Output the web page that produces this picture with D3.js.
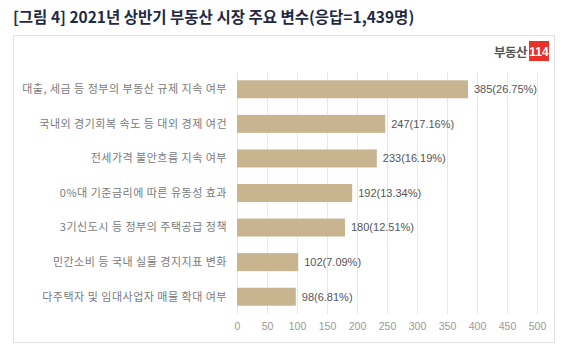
<!DOCTYPE html>
<html><head><meta charset="utf-8">
<script src="https://cdn.jsdelivr.net/npm/d3@7"></script>
<style>body{margin:0;background:#fff;font-family:"Noto Sans CJK KR","Noto Sans",sans-serif;}</style>
</head><body><svg id="c" width="570" height="350"></svg>
<script>
const categories = ["대출, 세금 등 정부의 부동산 규제 지속 여부","국내외 경기회복 속도 등 대외 경제 여건","전세가격 불안흐름 지속 여부","0%대 기준금리에 따른 유동성 효과","3기신도시 등 정부의 주택공급 정책","민간소비 등 국내 실물 경지지표 변화","다주택자 및 임대사업자 매물 확대 여부"];
const counts = [385,247,233,192,180,102,98];
const shares = ["26.75%","17.16%","16.19%","13.34%","12.51%","7.09%","6.81%"];
const ticks = [0,50,100,150,200,250,300,350,400,450,500];

const svg = d3.select("#c");
svg.append("text").attr("x",13).attr("y",23).attr("font-size",15.5).attr("font-weight","bold")
  .attr("fill","#1f2a44").text("[그림 4] 2021년 상반기 부동산 시장 주요 변수(응답=1,439명)");
svg.append("rect").attr("x",13.5).attr("y",35.5).attr("width",541).attr("height",307)
  .attr("fill","#fff").attr("stroke","#e3e3e3");
// logo
svg.append("text").attr("x",527).attr("y",57).attr("text-anchor","end").attr("font-size",12.5)
  .attr("font-weight","bold").attr("fill","#555").attr("letter-spacing",-0.5).text("부동산");
svg.append("rect").attr("x",529).attr("y",41).attr("width",20).attr("height",20).attr("fill","#e8312a");
svg.append("text").attr("x",539).attr("y",56).attr("text-anchor","middle").attr("font-size",12)
  .attr("font-weight","bold").attr("fill","#fff").attr("font-family","Liberation Sans Narrow, Liberation Sans, sans-serif").text("114");

const x = d3.scaleLinear().domain([0,500]).range([237,537]);
const y = d3.scaleBand().domain(categories).range([72,314]).paddingInner(0.48).paddingOuter(0.24);

const g = svg.append("g");
g.selectAll("line.grid").data(ticks).join("line").attr("class","grid")
  .attr("x1",d=>x(d)+0.5).attr("x2",d=>x(d)+0.5).attr("y1",72).attr("y2",314)
  .attr("stroke","#e8e8e8").attr("stroke-width",1);

const ax = g.append("g").attr("transform","translate(0,314)").call(d3.axisBottom(x).tickValues(ticks).tickSize(0).tickPadding(9));
ax.select(".domain").remove();
ax.selectAll("text").attr("font-size",10.5).attr("fill","#999").attr("font-family","Liberation Sans, sans-serif");

g.selectAll("rect.bar").data(categories).join("rect").attr("class","bar")
  .attr("x",x(0)).attr("y",d=>y(d)).attr("height",y.bandwidth())
  .attr("width",(d,i)=>x(counts[i])-x(0)).attr("fill","#c8b48f");

g.selectAll("text.cat").data(categories).join("text").attr("class","cat")
  .attr("x",227).attr("y",d=>y(d)+y.bandwidth()/2).attr("dy","0.35em").attr("text-anchor","end")
  .attr("font-size",11).attr("letter-spacing",0.5).attr("fill","#7a7a7a").text(d=>d);

g.selectAll("text.val").data(categories).join("text").attr("class","val")
  .attr("x",(d,i)=>x(counts[i])+6).attr("y",d=>y(d)+y.bandwidth()/2).attr("dy","0.35em")
  .attr("font-size",11).attr("fill","#555").attr("font-family","Liberation Sans, sans-serif")
  .text((d,i)=>counts[i]+"("+shares[i]+")");
</script></body></html>
